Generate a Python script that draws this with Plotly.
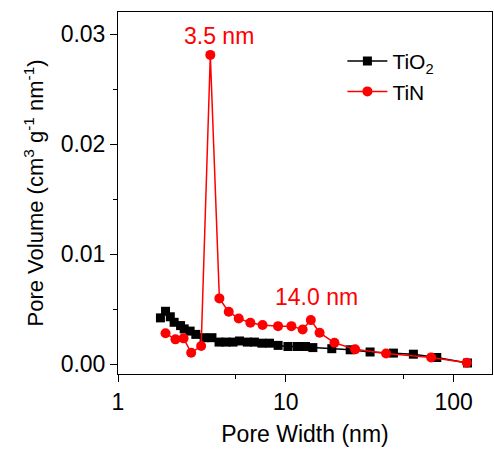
import math
import plotly.graph_objects as go

# TiO2 pore size distribution
tio2_width = [1.79, 1.92, 2.05, 2.16, 2.36, 2.48, 2.69, 2.91, 3.26, 3.63, 4.0, 4.4,
              4.85, 5.3, 5.9, 6.5, 7.2, 8.0, 9.0, 10.3, 11.7, 13.1, 14.5, 18.8,
              24.2, 31.8, 43.8, 57.6, 79.4, 121]
tio2_vol = [0.0042, 0.0048, 0.0043, 0.0038, 0.0035, 0.0032, 0.0030, 0.0027, 0.0024,
            0.0024, 0.0020, 0.0020, 0.0020, 0.0021, 0.0020, 0.0020, 0.0019, 0.0019,
            0.0017, 0.0016, 0.0016, 0.0016, 0.0015, 0.0014, 0.0013, 0.0011, 0.0010,
            0.0009, 0.0006, 0.0001]

# TiN pore size distribution
tin_width = [1.92, 2.2, 2.46, 2.73, 3.13, 3.55, 4.02, 4.57, 5.24, 6.15, 7.27, 8.99,
             10.8, 12.6, 14.1, 15.9, 19.5, 25.9, 39.6, 73.5, 119.9]
tin_vol = [0.0028, 0.00225, 0.00234, 0.00103, 0.00164, 0.0281, 0.00597, 0.00475,
           0.00415, 0.00376, 0.00355, 0.00345, 0.00345, 0.00315, 0.0040, 0.00285,
           0.00194, 0.00134, 0.00097, 0.00061, 0.00012]

x_ticks = [1, 10, 100]
y_ticks = [0.00, 0.01, 0.02, 0.03]

FONT = "Liberation Sans, Arial, sans-serif"
RED = "#ff0000"

fig = go.Figure()
fig.add_trace(go.Scatter(
    x=tio2_width, y=tio2_vol, mode="lines+markers", name="TiO<sub>2</sub>",
    line=dict(color="black", width=1.5),
    marker=dict(symbol="square", size=9, color="black"),
))
fig.add_trace(go.Scatter(
    x=tin_width, y=tin_vol, mode="lines+markers", name="TiN",
    line=dict(color=RED, width=1.5),
    marker=dict(symbol="circle", size=10, color=RED),
))

fig.add_annotation(x=math.log10(4.02), y=0.0298, text="3.5 nm", showarrow=False,
                   font=dict(color=RED, size=23, family=FONT))
fig.add_annotation(x=math.log10(15.2), y=0.0061, text="14.0 nm", showarrow=False,
                   font=dict(color=RED, size=23, family=FONT))

fig.update_layout(
    width=494, height=451,
    margin=dict(l=118, r=2, t=12, b=77),
    paper_bgcolor="white", plot_bgcolor="white",
    font=dict(family=FONT, size=23, color="black"),
    showlegend=True,
    legend=dict(x=0.60, y=0.92, xanchor="left", yanchor="top",
                bgcolor="rgba(0,0,0,0)", font=dict(size=21),
                tracegroupgap=0, itemwidth=40),
)
fig.update_xaxes(
    type="log", range=[0, 2.229],
    tickmode="array", tickvals=x_ticks, ticktext=[str(v) for v in x_ticks],
    ticks="outside", ticklen=7, tickwidth=1, tickcolor="black",
    showline=True, linecolor="black", linewidth=1, mirror=True,
    showgrid=False, zeroline=False,
    minor=dict(tickmode="array", tickvals=[5, 50], ticks="outside", ticklen=4,
               tickcolor="black", showgrid=False),
    title=dict(text="Pore Width (nm)", font=dict(size=23), standoff=12),
)
fig.update_yaxes(
    range=[-0.0009, 0.032],
    tickmode="array", tickvals=y_ticks, ticktext=["%.2f" % v for v in y_ticks],
    ticks="outside", ticklen=7, tickwidth=1, tickcolor="black",
    showline=True, linecolor="black", linewidth=1, mirror=True,
    showgrid=False, zeroline=False,
    minor=dict(dtick=0.005, ticks="outside", ticklen=4, tickcolor="black",
               showgrid=False),
    title=dict(text="Pore Volume (cm<sup>3</sup> g<sup>-1</sup> nm<sup>-1</sup>)",
               font=dict(size=22), standoff=10),
)

fig.write_html("out.html")
